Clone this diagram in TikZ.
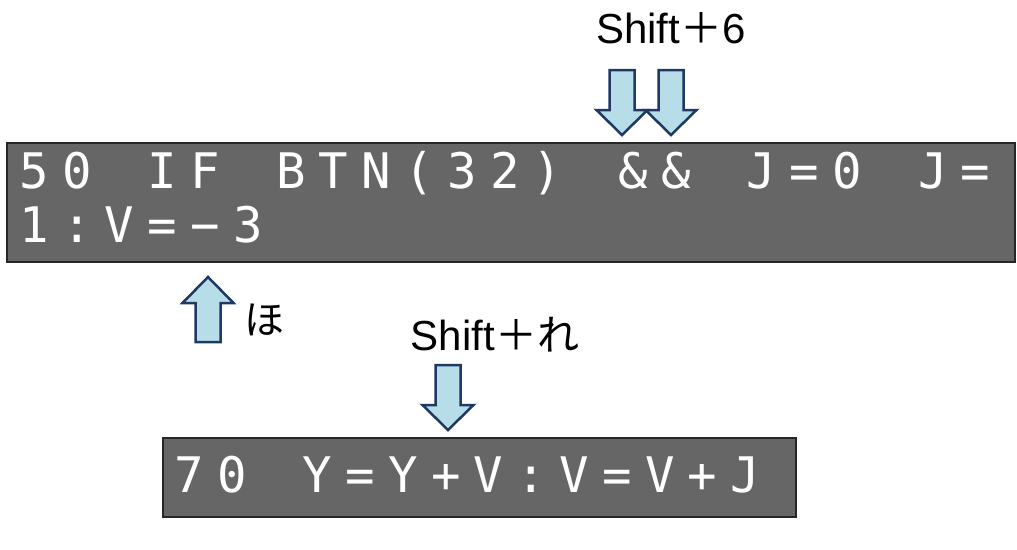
\documentclass[tikz,border=0pt]{standalone}
\usepackage{fontspec}
\setmainfont{Liberation Sans}
\newfontfamily\jpfont{Noto Sans CJK JP}
\newfontfamily\pixfont{DejaVu Sans Mono}
\definecolor{screengray}{HTML}{666666}
\definecolor{keyfill}{HTML}{B7DEE8}
\definecolor{keyline}{HTML}{1F3864}
\tikzset{
  screenbox/.style={fill=screengray, draw=black!85, line width=1.5pt},
  ch/.style={anchor=base, inner sep=0pt, text=white, font=\pixfont\fontsize{49}{49}\selectfont},
  keyarrow/.style={fill=keyfill, draw=keyline, line width=2.5pt, line join=miter},
  keylabel/.style={anchor=base, inner sep=0pt, font=\fontsize{42}{48}\selectfont}
}
\begin{document}
\begin{tikzpicture}[x=1pt,y=-1pt]
	\useasboundingbox (0,0) rectangle (1017,549);

	\draw[screenbox] (7,143) rectangle (1015,262);
	\draw[screenbox] (163,438) rectangle (796,517);

	\foreach \i/\c in {0/5,1/0,3/I,4/F,6/B,7/T,8/N,9/{(},10/3,11/2,12/{)},14/\&,15/\&,17/J,18/=,19/0,21/J,22/=}
	    {
		  \node[ch] (a\i) at (34+42.8*\i,188) {\c};
	    }
	\foreach \i/\c in {0/1,1/:,2/V,3/=,4/−,5/3}
	    {
		  \node[ch] (b\i) at (34+42.8*\i,242) {\c};
	    }
	\foreach \i/\c in {0/7,1/0,3/Y,4/=,5/Y,6/+,7/V,8/:,9/V,10/=,11/V,12/+,13/J}
	    {
		  \node[ch] (c\i) at (189+42.8*\i,492) {\c};
	    }

	% keys
	\node[keylabel] (shift6) at (671,43) {Shift{\jpfont ＋}6};
	\node[anchor=center, inner sep=0pt, font=\jpfont\fontsize{40}{44}\selectfont] (ho) at (264,320) {ほ};
	\node[keylabel] (shiftre) at (495,350) {Shift{\jpfont ＋れ}};

	\foreach \x in {622,671}
	  \draw[keyarrow] (\x-12.5,70) -- ++(25,0) -- ++(0,40) -- ++(13,0) -- (\x,135) -- (\x-25.5,110) -- ++(13,0) -- cycle;
	\draw[keyarrow] (448-12.5,365) -- ++(25,0) -- ++(0,40) -- ++(13,0) -- (448,430) -- (448-25.5,405) -- ++(13,0) -- cycle;
	\draw[keyarrow] (208-12.5,342) -- ++(25,0) -- ++(0,-39) -- ++(13,0) -- (208,277) -- (208-25.5,303) -- ++(13,0) -- cycle;
\end{tikzpicture}
\end{document}
